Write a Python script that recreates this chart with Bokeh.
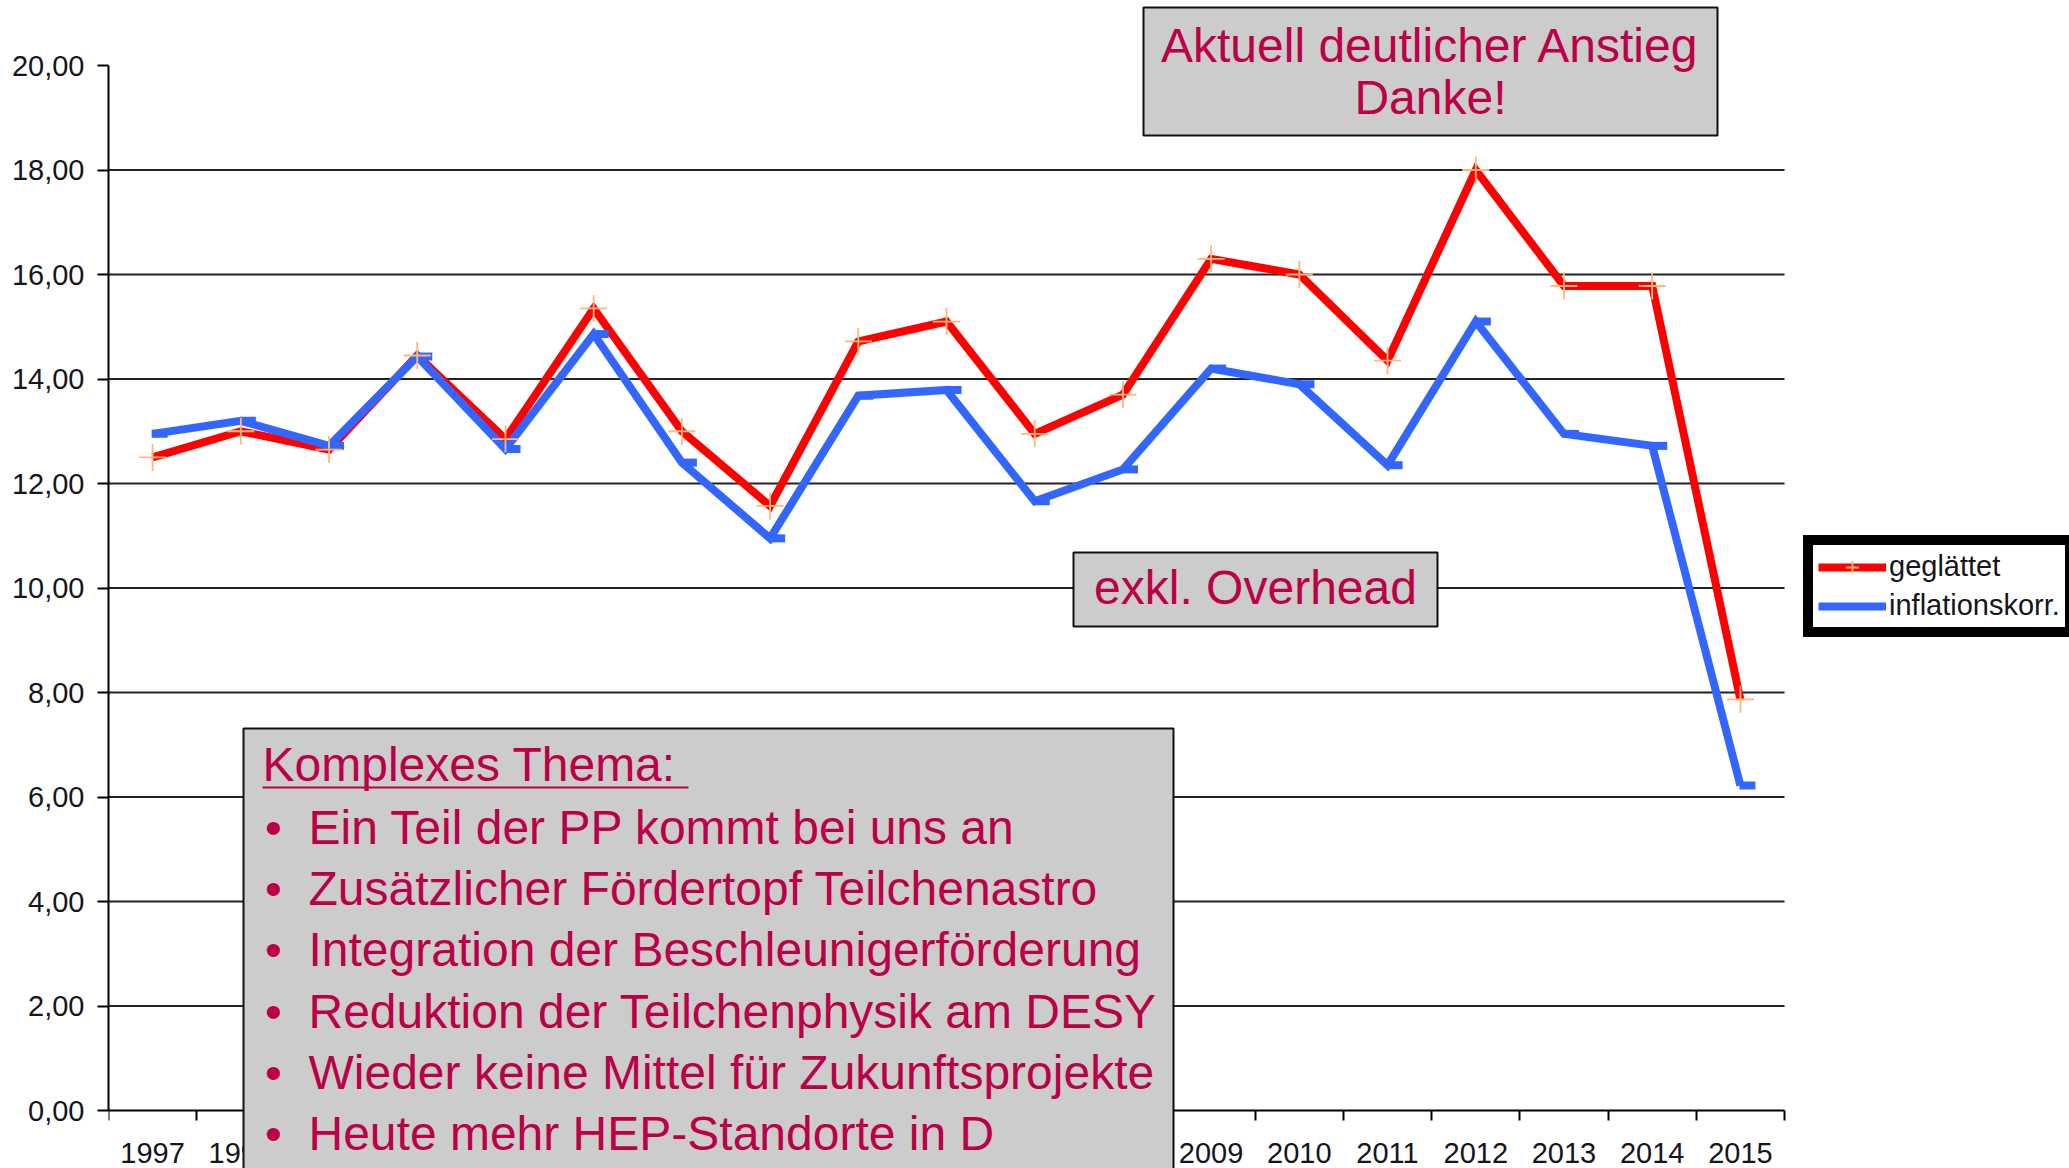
from bokeh.plotting import figure
from bokeh.models import FixedTicker, Legend, LegendItem, BoxAnnotation, Label, ColumnDataSource, Range1d
from bokeh.embed import file_html
from bokeh.resources import INLINE
from bokeh.transform import dodge

years = [1997, 1998, 1999, 2000, 2001, 2002, 2003, 2004, 2005, 2006,
         2007, 2008, 2009, 2010, 2011, 2012, 2013, 2014, 2015]
geglaettet = [12.5, 13.0, 12.65, 14.45, 12.85, 15.35, 13.0, 11.57, 14.72, 15.1,
              12.95, 13.7, 16.3, 16.0, 14.35, 18.0, 15.78, 15.78, 7.87]
inflationskorr = [12.95, 13.2, 12.72, 14.43, 12.66, 14.86, 12.4, 10.95, 13.68, 13.79,
                  11.66, 12.27, 14.2, 13.9, 12.35, 15.1, 12.95, 12.72, 6.22]
y_ticks = [0, 2, 4, 6, 8, 10, 12, 14, 16, 18, 20]
y_tick_labels = ["0,00", "2,00", "4,00", "6,00", "8,00", "10,00", "12,00",
                 "14,00", "16,00", "18,00", "20,00"]
series_names = ["geglättet", "inflationskorr."]

title_lines = ["Aktuell deutlicher Anstieg", "Danke!"]
middle_note = "exkl. Overhead"
box_heading = "Komplexes Thema: "
box_bullets = ["Ein Teil der PP kommt bei uns an",
               "Zusätzlicher Fördertopf Teilchenastro",
               "Integration der Beschleunigerförderung",
               "Reduktion der Teilchenphysik am DESY",
               "Wieder keine Mittel für Zukunftsprojekte",
               "Heute mehr HEP-Standorte in D"]

FONT = "Liberation Sans"
ACCENT = "#BC0047"
BOXFILL = "#CCCCCC"
TXT = "#151520"

W, H = 2069, 1168
FRAME_L, AXIS_R = 108, 1784
PX_Y20, PX_Y0 = 65, 1110
x0, x1 = years[0] - 0.5, years[-1] + 0.5
xppu = (AXIS_R - FRAME_L) / (x1 - x0)
x_hi = x1 + (W - AXIS_R) / xppu
ppu = (PX_Y0 - PX_Y20) / (y_ticks[-1] - y_ticks[0])
y_lo = y_ticks[0] - (H - PX_Y0) / ppu
y_hi = y_ticks[-1] + PX_Y20 / ppu

src = ColumnDataSource(dict(x=years, red=geglaettet, blue=inflationskorr))
grid_src = ColumnDataSource(dict(y=y_ticks[1:-1], x0=[x0] * (len(y_ticks) - 2),
                                 x1=[x1] * (len(y_ticks) - 2)))

p = figure(width=W, height=H, output_backend="svg", toolbar_location=None,
           x_range=Range1d(x0, x_hi), y_range=Range1d(y_lo, y_hi),
           min_border_left=FRAME_L, min_border_right=0, min_border_top=0,
           min_border_bottom=0)
p.outline_line_color = None
p.background_fill_color = "white"
p.border_fill_color = "white"

# axes
p.xaxis.fixed_location = 0
p.xaxis.bounds = (x0, x1)
p.xaxis.ticker = FixedTicker(ticks=years, minor_ticks=[y - 0.5 for y in years] + [x1])
p.xaxis.major_label_overrides = {y: str(y) for y in years}
p.xaxis.major_tick_out = 0
p.xaxis.major_tick_in = 0
p.xaxis.minor_tick_out = 10
p.xaxis.minor_tick_in = 0
p.xaxis.minor_tick_line_color = "black"
p.xaxis.minor_tick_line_width = 2
p.xaxis.major_label_standoff = 22
p.yaxis.ticker = FixedTicker(ticks=y_ticks)
p.yaxis.bounds = (y_ticks[0], y_ticks[-1])
p.yaxis.major_label_overrides = {t: l for t, l in zip(y_ticks, y_tick_labels)}
p.yaxis.major_tick_out = 11
p.yaxis.major_tick_in = 0
p.yaxis.minor_tick_out = 0
p.yaxis.minor_tick_in = 0
p.yaxis.major_label_standoff = 13
for ax in (p.xaxis, p.yaxis):
    ax.axis_line_color = "black"
    ax.axis_line_width = 2
    ax.major_tick_line_color = "black"
    ax.major_tick_line_width = 2
    ax.major_label_text_font = FONT
    ax.major_label_text_font_size = "29px"
    ax.major_label_text_color = TXT

p.xgrid.visible = False
p.ygrid.visible = False
# horizontal grid lines restricted to the category span
p.segment(x0="x0", x1="x1", y0="y", y1="y", source=grid_src, line_color="#222222",
          line_width=2, level="underlay")

# series
r_red = p.line("x", "red", source=src, line_color="#FF0000", line_width=8, line_join="miter")
r_blue = p.line("x", "blue", source=src, line_color="#3366FF", line_width=8, line_join="miter")
r_bm = p.scatter(dodge("x", 0.08, range=p.x_range), "blue", source=src, marker="dash", size=16,
                 line_color="#3366FF", line_width=8)
r_rm = p.scatter("x", "red", source=src, marker="cross", size=27,
                 line_color="#FFB878", line_width=1.8)

legend = Legend(items=[LegendItem(label=series_names[0], renderers=[r_red, r_rm]),
                       LegendItem(label=series_names[1], renderers=[r_blue])],
                location=(1803 - FRAME_L, H - 637), border_line_color="black",
                border_line_width=10, border_line_alpha=1,
                background_fill_color="white", background_fill_alpha=1,
                padding=5, spacing=6, margin=0, glyph_width=68, glyph_height=32,
                label_height=32, label_standoff=3, label_text_font=FONT,
                label_text_font_size="29px", label_text_color=TXT)
p.add_layout(legend, "center")

# annotation boxes (canvas pixel units)
def cbox(l, t, r, b, lw=2):
    return BoxAnnotation(left=l, right=r, top=t, bottom=b,
                         left_units="canvas", right_units="canvas",
                         top_units="canvas", bottom_units="canvas",
                         fill_color=BOXFILL, fill_alpha=1, line_color="#111111",
                         line_alpha=1, line_width=lw, level="overlay")

def clabel(x, y, text, align="left", size="48px"):
    return Label(x=x, y=y, x_units="canvas", y_units="canvas", text=text,
                 text_font=FONT, text_font_size=size, text_color=ACCENT,
                 text_align=align, text_baseline="alphabetic", level="overlay")

p.add_layout(cbox(1143, 7, 1717, 135))
p.add_layout(clabel(1430, 45, title_lines[0], align="center"))
p.add_layout(clabel(1430, 97, title_lines[1], align="center"))

p.add_layout(cbox(1073, 552, 1437, 626))
p.add_layout(clabel(1255, 587, middle_note, align="center"))

p.add_layout(cbox(243, 728, 1173, H + 10))
p.add_layout(clabel(262, 764, box_heading))
ul = BoxAnnotation(left=262, right=688, top=786, bottom=788,
                   left_units="canvas", right_units="canvas",
                   top_units="canvas", bottom_units="canvas",
                   fill_color=ACCENT, fill_alpha=1, line_color=None, level="overlay")
p.add_layout(ul)
base = 827
for i, b in enumerate(box_bullets):
    yb = base + i * 61.2
    p.add_layout(clabel(273, yb, "•", align="center"))
    p.add_layout(clabel(308, yb, b))

open("out.html", "w").write(file_html(p, INLINE))
